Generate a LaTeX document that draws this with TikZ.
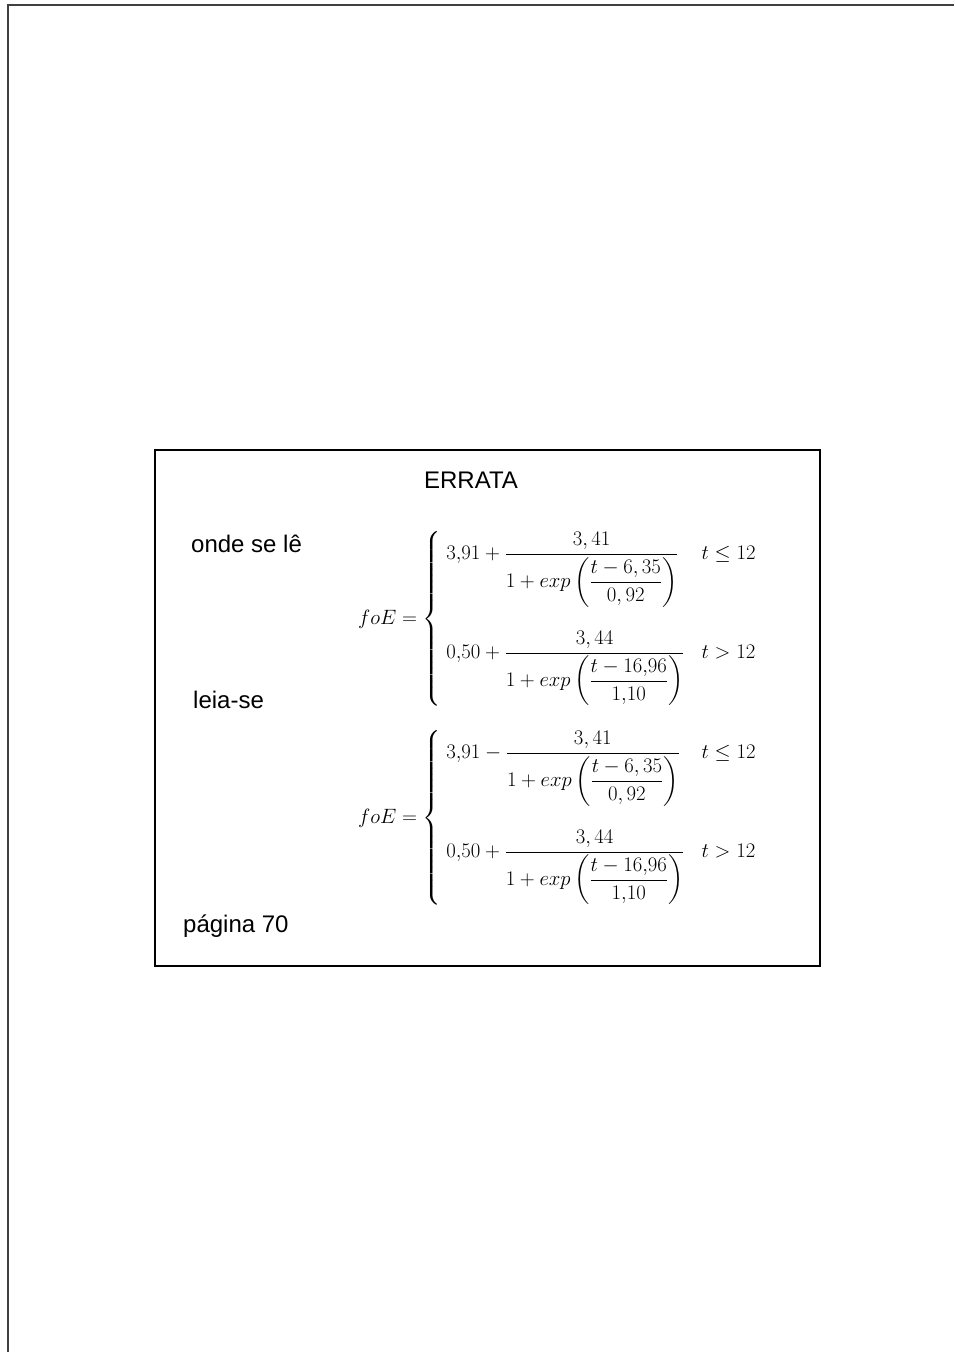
\documentclass[tikz,border=0pt]{standalone}
\usepackage{amsmath}
\usepackage{fontspec}
\setmainfont{Liberation Sans}
\tikzset{
  lbl/.style={anchor=base west, inner sep=0pt, font=\fontsize{24}{28}\selectfont},
  eqn/.style={anchor=west, inner sep=0pt, font=\fontsize{20}{24}\selectfont},
}
\begin{document}
\begin{tikzpicture}[x=1pt,y=-1pt]
\useasboundingbox (0,0) rectangle (954,1352);
\draw[line width=2pt, black!75] (8,1352) -- (8,4.5) -- (954,4.5);
\node (box) [draw, line width=1.2pt, inner sep=0pt, outer sep=0pt, anchor=north west,
  minimum width=665pt, minimum height=516pt] at (155,450) {};
\node (title) [lbl, anchor=base] at (471,488) {ERRATA};
\node (onde) [lbl] at (191,552) {onde se lê};
\node (leia) [lbl] at (193,708) {leia-se};
\node (pag) [lbl] at (183,932) {página 70};
\node (eq1) [eqn] at (358,619) {$\displaystyle foE=\left\{\begin{array}{l@{\hspace{17pt}}l}
 3{,}91+\dfrac{3,41}{1+exp\left(\dfrac{t-6,35}{0,92}\right)} & t\le 12\\
 \noalign{\vskip 24pt}
 0{,}50+\dfrac{3,44}{1+exp\left(\dfrac{t-16{,}96}{1{,}10}\right)} & t>12
 \end{array}\right.$};
\node (eq2) [eqn] at (358,818) {$\displaystyle foE=\left\{\begin{array}{l@{\hspace{17pt}}l}
 3{,}91-\dfrac{3,41}{1+exp\left(\dfrac{t-6,35}{0,92}\right)} & t\le 12\\
 \noalign{\vskip 24pt}
 0{,}50+\dfrac{3,44}{1+exp\left(\dfrac{t-16{,}96}{1{,}10}\right)} & t>12
 \end{array}\right.$};
\end{tikzpicture}
\end{document}
